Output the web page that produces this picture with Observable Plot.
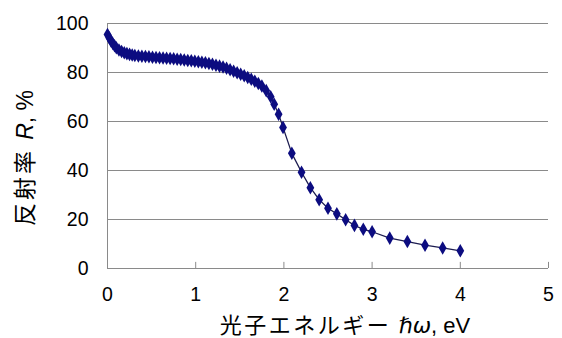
<!DOCTYPE html>
<html><head><meta charset="utf-8">
<script src="https://cdn.jsdelivr.net/npm/d3@7"></script>
<script src="https://cdn.jsdelivr.net/npm/@observablehq/plot@0.6"></script>
<style>body{margin:0;background:#fff} #chart{width:562px;height:338px}</style>
</head><body><div id="chart"></div>
<script>
const energy = [0.00,0.02,0.04,0.06,0.08,0.10,0.13,0.16,0.19,0.22,0.25,0.28,0.31,
  0.35,0.39,0.43,0.47,0.51,0.55,0.59,0.63,0.67,0.71,0.75,0.79,0.83,0.87,0.91,0.95,0.99,
  1.03,1.07,1.11,1.15,1.19,1.23,1.27,1.31,1.35,1.39,1.43,1.47,1.51,1.55,1.59,1.63,1.67,1.71,1.75,
  1.80,1.85,1.89,1.94,1.99,2.09,2.20,2.30,2.40,2.50,2.60,2.70,2.80,2.90,3.00,3.20,3.40,3.60,3.80,4.00];
const reflectance = [95.5,94.2,92.9,91.8,90.9,90.1,89.2,88.6,88.1,87.7,87.4,87.1,86.9,
  86.7,86.6,86.5,86.4,86.2,86.1,86.0,85.9,85.8,85.7,85.6,85.4,85.3,85.1,84.9,84.8,84.6,
  84.4,84.2,84.0,83.7,83.4,83.0,82.6,82.2,81.7,81.1,80.5,79.9,79.3,78.7,78.0,77.2,76.4,75.5,74.5,
  72.6,70.1,67.0,63.0,57.6,47.0,39.3,33.0,28.1,24.6,22.3,19.9,17.6,16.0,15.0,12.4,11.0,9.5,8.4,7.2];
const xTicks = [0,1,2,3,4,5];
const yTicks = [0,20,40,60,80,100];
const xLabelParts = ["光子エネルギー ", "ℏω", ", eV"];
const yLabelParts = ["反射率 ", "R", ", %"];

const data = energy.map((e, i) => ({e, r: reflectance[i]}));
const FONT = "'Liberation Sans', Arial, 'Noto Sans CJK JP', sans-serif";

const plot = Plot.plot({
  width: 562, height: 338,
  marginLeft: 107, marginRight: 14, marginTop: 23, marginBottom: 70,
  style: {fontFamily: FONT, fontSize: "19.5px", background: "#fff", color: "#000"},
  x: {domain: [0, 5], label: null},
  y: {domain: [0, 100], label: null},
  marks: [
    Plot.ruleY(yTicks.slice(1), {stroke: "#8a8a8a", strokeWidth: 1}),
    Plot.ruleY([0], {stroke: "#8a8a8a", strokeWidth: 1}),
    Plot.ruleX([0], {stroke: "#8a8a8a", strokeWidth: 1}),
    Plot.ruleX(xTicks.slice(1), {y1: 0, y2: 2.5, stroke: "#8a8a8a", strokeWidth: 1}),
    Plot.axisX({ticks: xTicks, tickSize: 0, tickPadding: 19, tickFormat: d => String(d), label: null, fill: "#000"}),
    Plot.axisY({ticks: yTicks, tickSize: 0, tickPadding: 19, tickFormat: d => String(d), label: null, fill: "#000"}),
    Plot.line(data, {x: "e", y: "r", stroke: "#1c1c50", strokeWidth: 1.3}),
    Plot.dot(data, {x: "e", y: "r", symbol: "diamond", r: 4.1, fill: "#0c0c80", stroke: "none"})
  ]
});
document.getElementById("chart").appendChild(plot);

const svg = d3.select(plot);
const xl = svg.append("text")
  .attr("x", 345).attr("y", 333)
  .attr("text-anchor", "middle")
  .attr("font-size", 22).attr("fill", "#000");
xl.append("tspan").attr("font-family", "'Noto Sans CJK JP', sans-serif").attr("letter-spacing", "2.5px").text(xLabelParts[0]);
xl.append("tspan").attr("font-family", "'DejaVu Sans', sans-serif").attr("font-style", "italic").text(xLabelParts[1]);
xl.append("tspan").attr("font-family", FONT).text(xLabelParts[2]);

const yl = svg.append("text")
  .attr("transform", "translate(33,158) rotate(-90)")
  .attr("text-anchor", "middle")
  .attr("font-size", 23).attr("fill", "#000");
yl.append("tspan").attr("font-family", "'Noto Sans CJK JP', sans-serif").attr("letter-spacing", "3px").text(yLabelParts[0]);
yl.append("tspan").attr("font-family", FONT).attr("font-style", "italic").text(yLabelParts[1]);
yl.append("tspan").attr("font-family", FONT).text(yLabelParts[2]);
</script>
</body></html>
